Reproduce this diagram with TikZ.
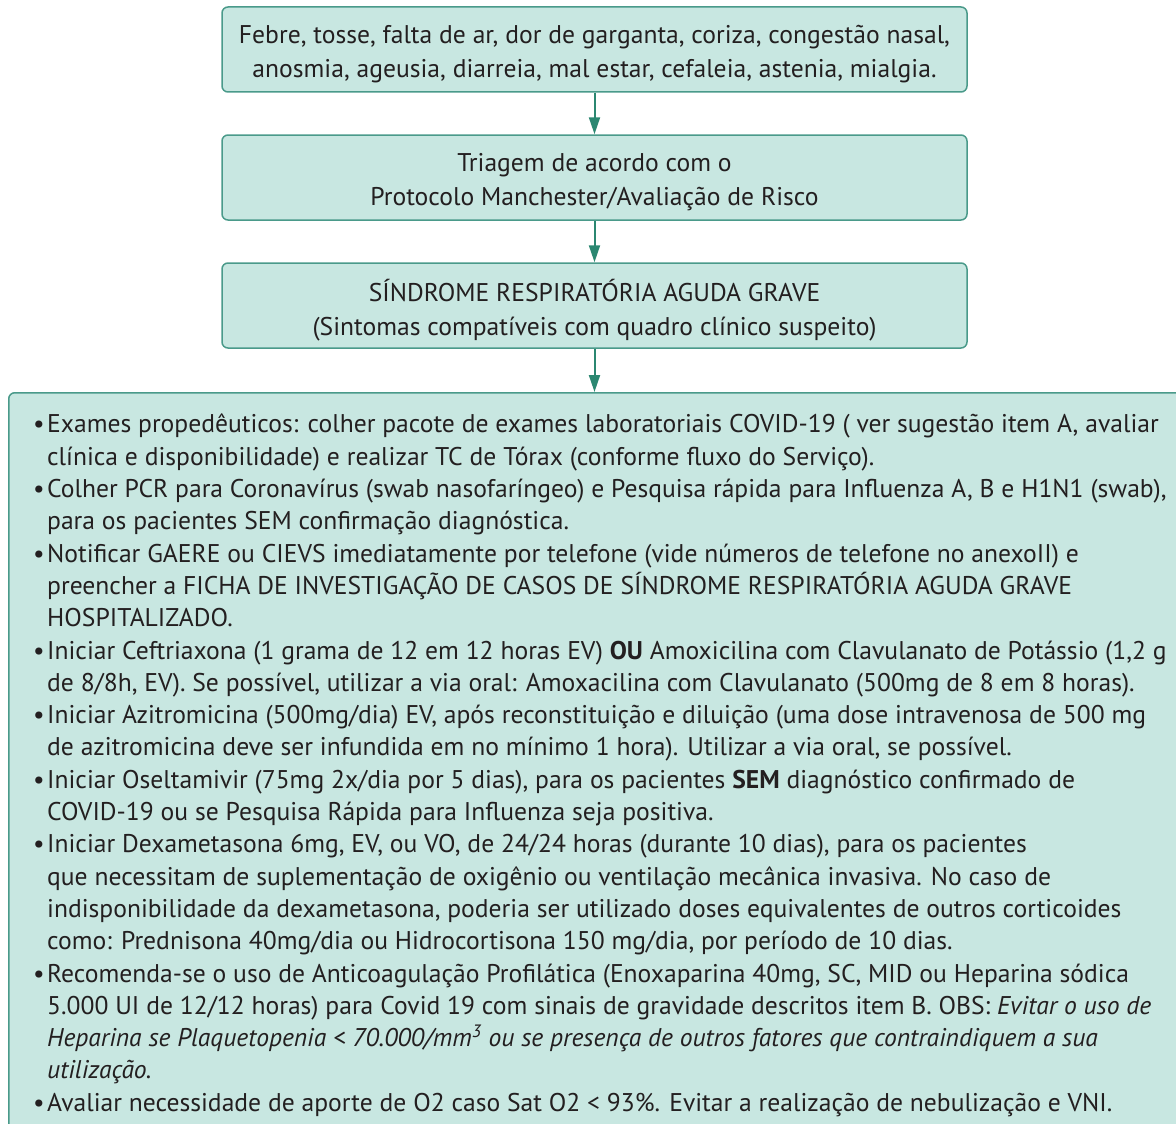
\documentclass[tikz,border=0pt]{standalone}
\usepackage{fontspec}
\setmainfont{PT Sans}
\usetikzlibrary{arrows.meta}
\definecolor{boxfill}{HTML}{C8E7E1}
\definecolor{boxline}{HTML}{4A9A8A}
\definecolor{arrowc}{HTML}{2B8771}
\definecolor{txt}{HTML}{231F20}
\newcommand{\lbul}{\makebox[14pt][l]{•}}
\newcommand{\lind}{\hspace*{14pt}}
\begin{document}
\begin{tikzpicture}[x=1pt,y=-1pt,
  flowbox/.style={draw=boxline, fill=boxfill, line width=1.5pt, rounded corners=6pt,
    minimum width=745pt, minimum height=85pt, inner sep=0pt},
  boxtext/.style={align=center, font=\fontsize{25.6}{34}\selectfont, text=txt, inner sep=0pt},
  flowarrow/.style={draw=arrowc, line width=2pt, -{Triangle[length=17pt,width=11pt]}},
  listtext/.style={font=\fontsize{25.6}{32.3}\selectfont, align=left, inner sep=0pt, text=txt, anchor=north west}]
\useasboundingbox (0,0) rectangle (1176,1124);
\clip (0,0) rectangle (1176,1124);
\node[flowbox] (a) at (594.5,49.5) {};
\node[flowbox] (b) at (594.5,177.5) {};
\node[flowbox] (c) at (594.5,305.5) {};
\node[flowbox, anchor=north west, minimum width=1200pt, minimum height=760pt] (d) at (8,392) {};
\node[boxtext] (at) at (594.5,54) {Febre, tosse, falta de ar, dor de garganta, coriza, congestão nasal,\\anosmia, ageusia, diarreia, mal estar, cefaleia, astenia, mialgia.};
\node[boxtext] (bt) at (594.5,182) {Triagem de acordo com o\\Protocolo Manchester/Avaliação de Risco};
\node[boxtext] (ct) at (594.5,310) {SÍNDROME RESPIRATÓRIA AGUDA GRAVE\\(Sintomas compatíveis com quadro clínico suspeito)};
\draw[flowarrow] (a) -- (b);
\draw[flowarrow] (b) -- (c);
\draw[flowarrow] (c.south) -- (c.south |- d.north);
\node[listtext] (e) at (33,414) {%
\lbul Exames propedêuticos: colher pacote de exames laboratoriais COVID-19 ( ver sugestão item A, avaliar\\
\lind clínica e disponibilidade) e realizar TC de Tórax (conforme fluxo do Serviço).\\
\lbul Colher PCR para Coronavírus (swab nasofaríngeo) e Pesquisa rápida para Influenza A, B e H1N1 (swab),\\
\lind para os pacientes SEM confirmação diagnóstica.\\
\lbul Notificar GAERE ou CIEVS imediatamente por telefone (vide números de telefone no anexoII) e\\
\lind preencher a FICHA DE INVESTIGAÇÃO DE CASOS DE SÍNDROME RESPIRATÓRIA AGUDA GRAVE\\
\lind HOSPITALIZADO.\\
\lbul Iniciar Ceftriaxona (1 grama de 12 em 12 horas EV) \textbf{OU} Amoxicilina com Clavulanato de Potássio (1,2 g\\
\lind de 8/8h, EV). Se possível, utilizar a via oral: Amoxacilina com Clavulanato (500mg de 8 em 8 horas).\\
\lbul Iniciar Azitromicina (500mg/dia) EV, após reconstituição e diluição (uma dose intravenosa de 500 mg\\
\lind de azitromicina deve ser infundida em no mínimo 1 hora). Utilizar a via oral, se possível.\\
\lbul Iniciar Oseltamivir (75mg 2x/dia por 5 dias), para os pacientes \textbf{SEM} diagnóstico confirmado de\\
\lind COVID-19 ou se Pesquisa Rápida para Influenza seja positiva.\\
\lbul Iniciar Dexametasona 6mg, EV, ou VO, de 24/24 horas (durante 10 dias), para os pacientes\\
\lind que necessitam de suplementação de oxigênio ou ventilação mecânica invasiva. No caso de\\
\lind indisponibilidade da dexametasona, poderia ser utilizado doses equivalentes de outros corticoides\\
\lind como: Prednisona 40mg/dia ou Hidrocortisona 150 mg/dia, por período de 10 dias.\\
\lbul Recomenda-se o uso de Anticoagulação Profilática (Enoxaparina 40mg, SC, MID ou Heparina sódica\\
\lind 5.000 UI de 12/12 horas) para Covid 19 com sinais de gravidade descritos item B. OBS: \textit{Evitar o uso de}\\
\lind \textit{Heparina se Plaquetopenia < 70.000/mm\textsuperscript{3} ou se presença de outros fatores que contraindiquem a sua}\\
\lind \textit{utilização.}\\
\lbul Avaliar necessidade de aporte de O2 caso Sat O2 < 93\%. Evitar a realização de nebulização e VNI.};
\end{tikzpicture}
\end{document}
